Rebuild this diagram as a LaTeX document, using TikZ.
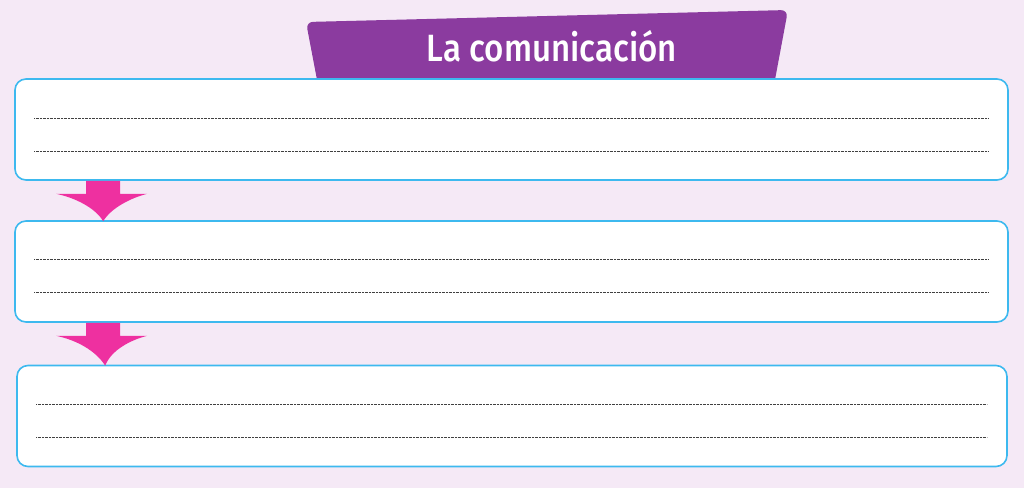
\documentclass[tikz,border=0pt]{standalone}
\usepackage{fontspec}
\setmainfont{Fira Sans}
\newfontfamily\titlefont{Fira Sans}[UprightFont=* Medium]
\definecolor{bgc}{HTML}{F5E9F6}
\definecolor{bannerc}{HTML}{8B3B9F}
\definecolor{edgec}{HTML}{3DB9EF}
\definecolor{arrowc}{HTML}{EE30A0}
\tikzset{
  box/.style={draw=edgec, line width=1.6pt, fill=white, rounded corners=11pt, minimum width=993pt, minimum height=101pt, inner sep=0pt},
  rule/.style={draw=black!75, line width=0.7pt, dash pattern=on 0.8pt off 0.6pt},
  downarrow/.style={fill=arrowc, draw=none},
  title/.style={text=white, font=\titlefont\fontsize{38}{38}\selectfont, inner sep=0pt}
}
\begin{document}
\begin{tikzpicture}[x=1pt,y=-1pt]
\fill[bgc] (0,0) rectangle (1024,488);
\useasboundingbox (0,0) rectangle (1024,488);
% banner
\fill[bannerc, rounded corners=7pt] (318,85) -- (306,22) -- (788,10) -- (774,85) -- cycle;
\node[title] (t) at (552,46) {\scalebox{0.87}[1]{La comunicación}};
% boxes
\node[box] (b1) at (511.5,129.5) {};
\node[box] (b2) at (511.5,271.5) {};
\node[box, minimum width=990pt] (b3) at (512,416) {};
% rules
\foreach \b/\dy in {b1/-11.5, b1/21.5, b2/-12.5, b2/20.5, b3/-12, b3/21} {
  \draw[rule] ([xshift=20pt,yshift=-\dy pt]\b.west) -- ([xshift=-21pt,yshift=-\dy pt]\b.east);
}
% arrows
\foreach \a/\b in {b1/b2, b2/b3} {
  \coordinate (s) at ([xshift=89pt]\a.south west);
  \coordinate (e) at ([xshift=89pt,yshift=-1pt]\b.north west);
  \fill[downarrow] ([xshift=-17pt]s) -- ([xshift=17pt]s) -- ([xshift=17pt,yshift=-13pt]s) -- ([xshift=44pt,yshift=-13pt]s)
     .. controls ([xshift=28pt,yshift=-17pt]s) and ([xshift=8pt,yshift=-27pt]s) .. (e)
     .. controls ([xshift=-8pt,yshift=-27pt]s) and ([xshift=-28pt,yshift=-17pt]s) .. ([xshift=-47pt,yshift=-13pt]s)
     -- ([xshift=-17pt,yshift=-13pt]s) -- cycle;
}
\end{tikzpicture}
\end{document}
